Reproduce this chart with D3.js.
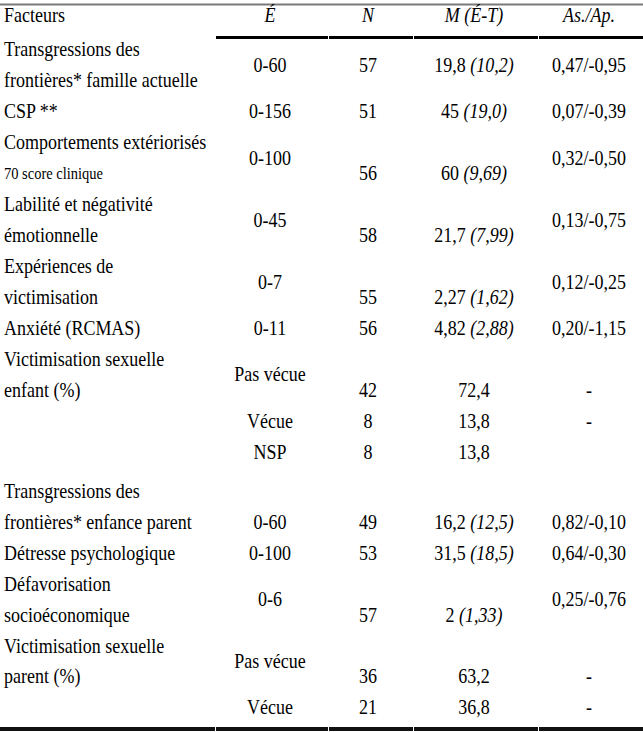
<!DOCTYPE html>
<html>
<head>
<meta charset="utf-8">
<script src="https://cdn.jsdelivr.net/npm/d3@7/dist/d3.min.js"></script>
<style>
  html, body { margin: 0; padding: 0; background: #fff; }
  svg { display: block; }
</style>
</head>
<body>
<svg id="chart" width="643" height="732"></svg>
<script>
// ---------------- DATA ----------------
const enTetes = ["Facteurs", "É", "N", "M (É-T)", "As./Ap."];

const facteurs = [
  ["Transgressions des", "frontières* famille actuelle"],
  ["CSP **"],
  ["Comportements extériorisés", "70 score clinique"],
  ["Labilité et négativité", "émotionnelle"],
  ["Expériences de", "victimisation"],
  ["Anxiété (RCMAS)"],
  ["Victimisation sexuelle", "enfant (%)"],
  ["Transgressions des", "frontières* enfance parent"],
  ["Détresse psychologique"],
  ["Défavorisation", "socioéconomique"],
  ["Victimisation sexuelle", "parent (%)"]
];

// continuous factors (null = categorical factor)
const etendues    = ["0-60", "0-156", "0-100", "0-45", "0-7", "0-11", null, "0-60", "0-100", "0-6", null];
const effectifs   = [57, 51, 56, 58, 55, 56, null, 49, 53, 57, null];
const moyennes    = ["19,8", "45", "60", "21,7", "2,27", "4,82", null, "16,2", "31,5", "2", null];
const ecartsTypes = ["10,2", "19,0", "9,69", "7,99", "1,62", "2,88", null, "12,5", "18,5", "1,33", null];
const asymAplat   = ["0,47/-0,95", "0,07/-0,39", "0,32/-0,50", "0,13/-0,75", "0,12/-0,25", "0,20/-1,15", null, "0,82/-0,10", "0,64/-0,30", "0,25/-0,76", null];

// categorical factors
const victEnfantModalites = ["Pas vécue", "Vécue", "NSP"];
const victEnfantN         = [42, 8, 8];
const victEnfantPct       = ["72,4", "13,8", "13,8"];
const victEnfantAs        = ["-", "-", ""];

const victParentModalites = ["Pas vécue", "Vécue"];
const victParentN         = [36, 21];
const victParentPct       = ["63,2", "36,8"];
const victParentAs        = ["-", "-"];

// ---------------- LAYOUT (not data) ----------------
const rowLines   = [1, 3, 4, 6, 8, 10, 11, 15, 17, 18, 20];
const etendueAt  = ["mid", "mid", "mid", "mid", "mid", "mid", "mid", "last", "mid", "mid", "mid"];
const valeursAt  = ["mid", "mid", "last", "last", "last", "mid", "last", "last", "mid", "last", "last"];
const asAt       = ["mid", "mid", "mid", "mid", "mid", "mid", "last", "last", "mid", "mid", "last"];
const smallLines = { "2-1": true };

const W = 643, H = 732;
const FONT = "Liberation Serif";
const FS = 18, STRETCH = 1.15;

const svg = d3.select("#chart").attr("font-family", FONT).style("font-family", FONT);

const colKeys = ["fact", "et", "n", "m", "as"];
const x = d3.scaleOrdinal().domain(colKeys).range([4, 270, 368, 474, 589]);
const colBounds = [0, 215, 328, 413, 538, W];

const yBase = d3.scaleLinear().domain([1, 22]).range([49, 49 + 21 * 30.95]);
const y = i => yBase(i) + (i >= 15 ? 8 : 0);

function mkText(col, yc, size) {
  return svg.append("text")
    .attr("transform", `translate(${x(col)},${yc + size * 0.36 * STRETCH}) scale(1,${STRETCH})`)
    .attr("text-anchor", col === "fact" ? "start" : "middle")
    .attr("font-family", FONT)
    .style("font-family", FONT)
    .attr("font-size", size)
    .attr("fill", "#000");
}

function put(txt, col, yc, opts = {}) {
  const t = mkText(col, yc, opts.size || FS);
  if (opts.italic) t.attr("font-style", "italic");
  return t.text(txt);
}

function valueWithSd(col, yc, m, sd) {
  const t = mkText(col, yc, FS);
  t.append("tspan").text(m + " ");
  t.append("tspan").attr("font-style", "italic").text("(" + sd + ")");
}

// ---------------- RULES ----------------
svg.append("line").attr("x1", 0).attr("x2", W).attr("y1", 4.5).attr("y2", 4.5)
  .attr("stroke", "#7a7a7a").attr("stroke-width", 2);

const segs = d3.pairs(colBounds);
svg.selectAll("line.hdr").data(segs.slice(1)).join("line")
  .attr("class", "hdr")
  .attr("x1", d => d[0] + 1).attr("x2", d => d[1])
  .attr("y1", 37.5).attr("y2", 37.5)
  .attr("stroke", "#000").attr("stroke-width", 3);

svg.selectAll("line.bot").data(segs).join("line")
  .attr("class", "bot")
  .attr("x1", d => d[0] + (d[0] ? 1 : 0)).attr("x2", d => d[1])
  .attr("y1", 729).attr("y2", 729)
  .attr("stroke", "#111").attr("stroke-width", 4);

// ---------------- HEADER ----------------
const headY = 15;
put(enTetes[0], "fact", headY);
colKeys.slice(1).forEach((k, i) => put(enTetes[i + 1], k, headY, { italic: true }));

// ---------------- BODY ----------------
facteurs.forEach((lines, r) => {
  const l0 = rowLines[r];
  const lLast = l0 + lines.length - 1;
  const pos = mode => mode === "mid" ? (y(l0) + y(lLast)) / 2 : y(lLast);

  lines.forEach((ln, j) => {
    const small = smallLines[r + "-" + j];
    put(ln, "fact", y(l0 + j), small ? { size: 14.5 } : {});
  });

  if (etendues[r] !== null) {
    put(etendues[r], "et", pos(etendueAt[r]));
    put(String(effectifs[r]), "n", pos(valeursAt[r]));
    valueWithSd("m", pos(valeursAt[r]), moyennes[r], ecartsTypes[r]);
    put(asymAplat[r], "as", pos(asAt[r]));
  } else {
    const isEnfant = r === 6;
    const mods = isEnfant ? victEnfantModalites : victParentModalites;
    const ns   = isEnfant ? victEnfantN : victParentN;
    const pcts = isEnfant ? victEnfantPct : victParentPct;
    const ass  = isEnfant ? victEnfantAs : victParentAs;
    mods.forEach((mod, k) => {
      const first = k === 0;
      const yMod = first ? pos("mid") : y(lLast + k);
      const yVal = first ? pos("last") : y(lLast + k);
      put(mod, "et", yMod);
      put(String(ns[k]), "n", yVal);
      put(pcts[k], "m", yVal);
      if (ass[k]) put(ass[k], "as", yVal);
    });
  }
});
</script>
</body>
</html>
